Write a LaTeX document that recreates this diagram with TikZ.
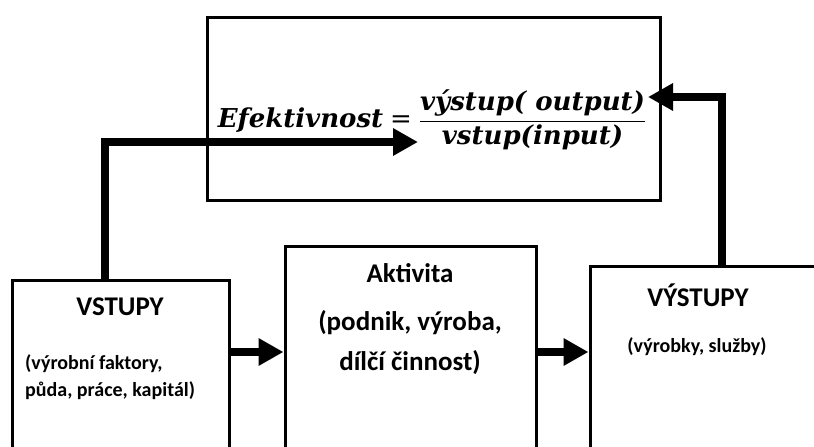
\documentclass[tikz,border=0pt]{standalone}
\usepackage{amsmath}
\usepackage{fontspec}
\setmainfont{Carlito}
\newfontfamily\eqfont{DejaVu Serif}
\usetikzlibrary{arrows.meta}
\newcommand{\eqt}[1]{\text{\eqfont\bfseries\itshape #1}}
\newcommand{\eqsign}{\mathrel{\text{\eqfont =}}}
\begin{document}
\begin{tikzpicture}[x=1pt,y=-1pt,
  box/.style={draw,line width=3pt,rectangle,inner sep=0pt},
  flow/.style={line width=8pt,-{Triangle[length=25pt,width=26pt]}},
  big/.style={font=\bfseries\fontsize{27}{30}\selectfont,inner sep=0pt},
  small/.style={font=\bfseries\fontsize{20}{24}\selectfont,inner sep=0pt},
  mid/.style={font=\bfseries\fontsize{27}{30}\selectfont,inner sep=0pt},
  eqn/.style={inner sep=0pt,font=\fontsize{26}{30}\selectfont}]
\useasboundingbox (0,0) rectangle (814,447);
\clip (0,0) rectangle (814,447);
% boxes
\node[box,minimum width=453pt,minimum height=183pt] (eff) at (433.5,108.5) {};
\node[box,minimum width=217pt,minimum height=200pt] (vstupy) at (120.5,380) {};
\node[box,minimum width=251pt,minimum height=230pt] (akt) at (410.5,361) {};
\node[box,minimum width=250pt,minimum height=220pt] (vyst) at (715,376) {};
% texts
\node[big] (t1) at (120,307) {VSTUPY};
\node[small,anchor=west] (t2) at (25,364) {(výrobní faktory,};
\node[small,anchor=west] (t3) at (25,391) {půda, práce, kapitál)};
\node[big] (t4) at (410,273) {Aktivita};
\node[mid] (t5) at (410,323) {(podnik, výroba,};
\node[mid] (t6) at (410,363) {dílčí činnost)};
\node[big] (t7) at (698,295) {VÝSTUPY};
\node[small] (t8) at (697,347) {(výrobky, služby)};
\node[eqn] (f) at (432,120)
  {$\displaystyle \eqt{Efektivnost}\eqsign\frac{\eqt{výstup( output)}}{\eqt{vstup(input)}}$};
% connectors
\coordinate (inTip) at (418,142);
\coordinate (outTip) at (648,97);
\draw[flow] (vstupy.north -| 105,0) |- (inTip);
\draw[flow] (vyst.north -| 722,0) |- (outTip);
\draw[flow] (vstupy.east |- 0,352) -- (akt.west |- 0,352);
\draw[flow] (akt.east |- 0,352) -- (vyst.west |- 0,352);
\end{tikzpicture}
\end{document}
